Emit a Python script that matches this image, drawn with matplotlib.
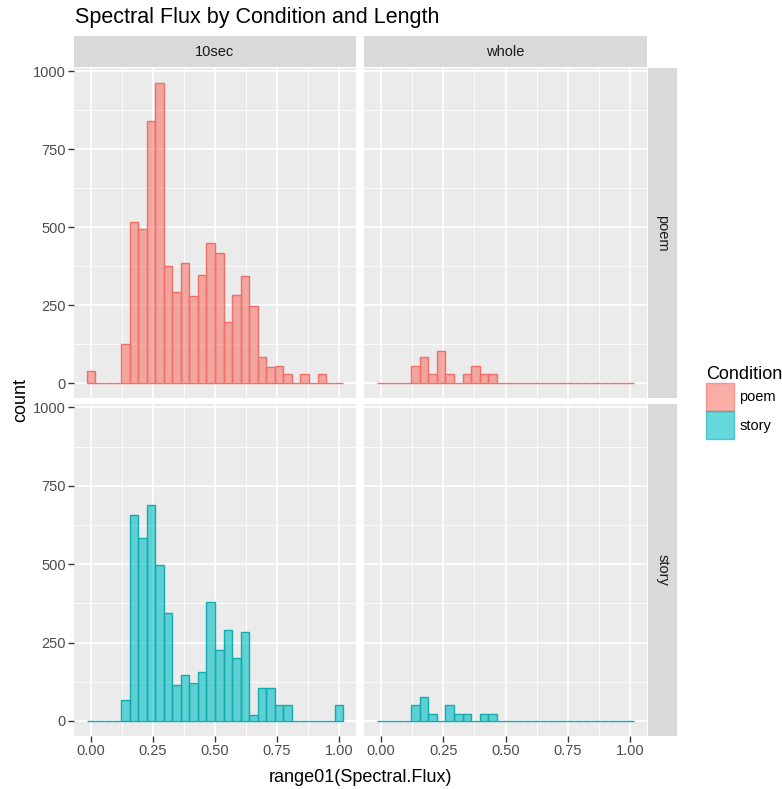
import numpy as np
import matplotlib.pyplot as plt
from matplotlib.patches import Patch

# 30 bins like ggplot's default over range01(...) = [0, 1]
n_bins = 30
bin_centers = np.linspace(0, 1, n_bins)
bin_width = 1 / (n_bins - 1)

conditions = ['poem', 'story']
lengths = ['10sec', 'whole']

poem_10sec = [39, 0, 0, 0, 124, 517, 495, 841, 963, 374, 293, 384, 278, 347, 448,
              416, 197, 283, 342, 246, 82, 50, 55, 29, 0, 29, 0, 29, 0, 0]
poem_whole = [0, 0, 0, 0, 55, 82, 29, 103, 29, 0, 29, 55, 29, 29, 0,
              0, 0, 0, 0, 0, 0, 0, 0, 0, 0, 0, 0, 0, 0, 0]
story_10sec = [0, 0, 0, 0, 66, 658, 584, 690, 498, 344, 114, 146, 120, 157, 381,
               226, 290, 200, 285, 18, 104, 104, 50, 50, 0, 0, 0, 0, 0, 50]
story_whole = [0, 0, 0, 0, 50, 77, 23, 0, 50, 23, 23, 0, 23, 23, 0,
               0, 0, 0, 0, 0, 0, 0, 0, 0, 0, 0, 0, 0, 0, 0]

counts = {('poem', '10sec'): poem_10sec, ('poem', 'whole'): poem_whole,
          ('story', '10sec'): story_10sec, ('story', 'whole'): story_whole}
colors = {'poem': '#F8766D', 'story': '#00BFC4'}
edge_colors = {'poem': '#F07068', 'story': '#10ACB0'}

x_ticks = [0, 0.25, 0.5, 0.75, 1.0]
x_ticklabels = ['0.00', '0.25', '0.50', '0.75', '1.00']
y_ticks = [0, 250, 500, 750, 1000]

plt.rcParams['font.family'] = ['Liberation Sans', 'DejaVu Sans']

W, H = 782, 789
fig = plt.figure(figsize=(W / 100, H / 100), dpi=100)
fig.patch.set_facecolor('white')


def px_axes(x0, y0, x1, y1):
    # axes from pixel box (top-left origin)
    return fig.add_axes([x0 / W, 1 - y1 / H, (x1 - x0) / W, (y1 - y0) / H])


col_x = [(74, 356), (364, 647)]
row_y = [(68, 398), (404, 736)]

for r, cond in enumerate(conditions):
    for c, length in enumerate(lengths):
        x0, x1 = col_x[c]
        y0, y1 = row_y[r]
        ax = px_axes(x0, y0, x1, y1)
        ax.set_facecolor('#EBEBEB')
        ax.bar(bin_centers, counts[(cond, length)], width=bin_width,
               facecolor=colors[cond], alpha=0.6, edgecolor='none', zorder=3)
        ax.bar(bin_centers, counts[(cond, length)], width=bin_width,
               facecolor='none', edgecolor=edge_colors[cond], linewidth=1.0, zorder=4)
        ax.set_xlim(-0.069, 1.069)
        ax.set_ylim(-48, 1011)
        ax.set_xticks(x_ticks)
        ax.set_xticks([0.125, 0.375, 0.625, 0.875], minor=True)
        ax.set_yticks(y_ticks)
        ax.set_yticks([125, 375, 625, 875], minor=True)
        ax.grid(True, which='major', color='white', linewidth=1.2, zorder=0)
        ax.grid(True, which='minor', color='white', linewidth=0.6, zorder=0)
        ax.set_axisbelow(True)
        for s in ax.spines.values():
            s.set_visible(False)
        ax.tick_params(which='minor', length=0)
        ax.tick_params(which='major', length=4, width=1, color='#333333',
                       labelcolor='#4D4D4D', labelsize=10.5, pad=2)
        if r == 1:
            ax.set_xticklabels(x_ticklabels)
        else:
            ax.tick_params(axis='x', length=0, labelbottom=False)
        if c == 0:
            ax.set_yticklabels([str(v) for v in y_ticks])
        else:
            ax.tick_params(axis='y', length=0, labelleft=False)

        # top strips
        if r == 0:
            st = px_axes(x0, 36, x1, 67)
            st.set_facecolor('#D9D9D9')
            st.set_xticks([])
            st.set_yticks([])
            for s in st.spines.values():
                s.set_visible(False)
            st.text(0.5, 0.5, length, ha='center', va='center',
                    fontsize=10.5, color='#1A1A1A')
        # right strips
        if c == 1:
            st = px_axes(648, y0, 677, y1)
            st.set_facecolor('#D9D9D9')
            st.set_xticks([])
            st.set_yticks([])
            for s in st.spines.values():
                s.set_visible(False)
            st.text(0.5, 0.5, cond, ha='center', va='center', rotation=-90,
                    fontsize=10.5, color='#1A1A1A')

fig.text(75 / W, 1 - 17 / H, 'Spectral Flux by Condition and Length',
         ha='left', va='center', fontsize=15.5, color='black')
fig.text(360 / W, 1 - 778 / H, 'range01(Spectral.Flux)', ha='center',
         va='center', fontsize=13, color='black')
fig.text(21 / W, 1 - 400 / H, 'count', ha='center', va='center',
         rotation=90, fontsize=13, color='black')

handles = [Patch(facecolor=colors[c], alpha=0.6, edgecolor=edge_colors[c], linewidth=1.0)
           for c in conditions]
leg = fig.legend(handles, conditions, loc='upper left',
                 bbox_to_anchor=(700 / W, 1 - 360 / H), frameon=False,
                 title='Condition', title_fontsize=13, fontsize=10.5,
                 handlelength=1.9, handleheight=2.6, labelspacing=0.0,
                 handletextpad=0.4, borderaxespad=0, alignment='left')
for t in leg.get_texts():
    t.set_color('black')

fig.savefig('out.png', dpi=100)
